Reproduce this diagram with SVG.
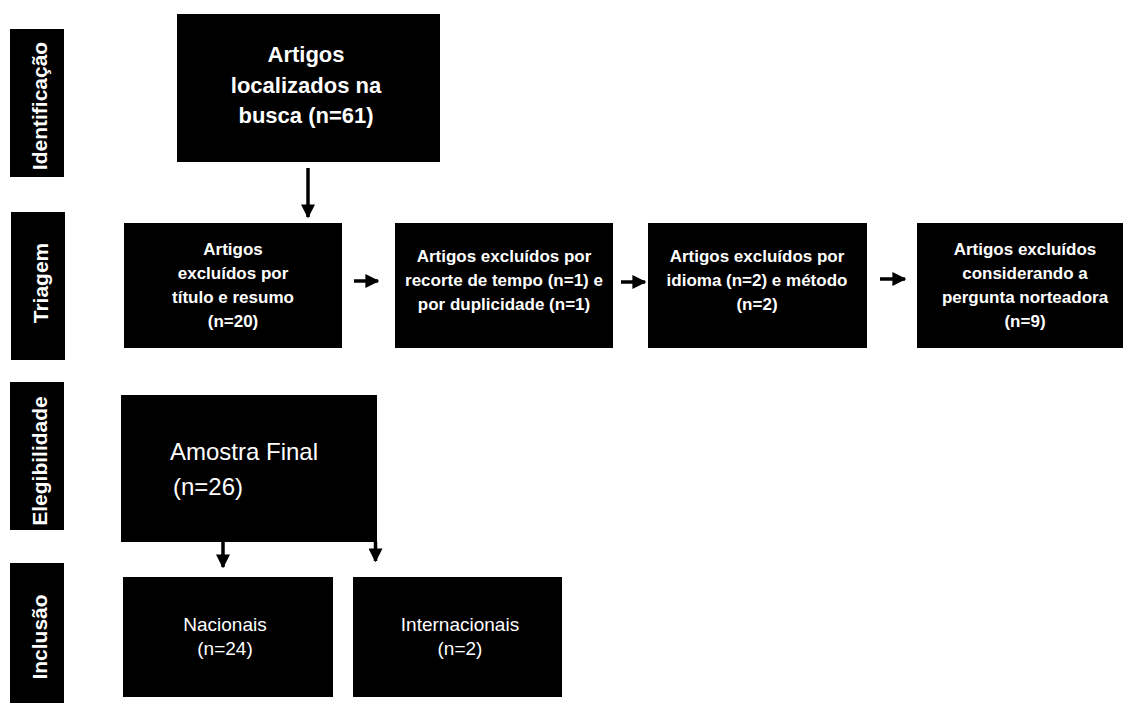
<svg xmlns="http://www.w3.org/2000/svg" width="1123" height="703" viewBox="0 0 1123 703">
<defs>
<style>
.box{fill:#000}
.side{fill:#000}
.t{fill:#fff;font-family:"Liberation Sans",Arial,sans-serif;text-anchor:middle}
.b{font-weight:bold}
.sl{fill:#fff;font-family:"Liberation Sans",Arial,sans-serif;font-weight:bold;font-size:21px;text-anchor:middle}
.ln{stroke:#000;stroke-width:3.5;fill:none}
</style>
<marker id="ah" viewBox="0 0 10 10" refX="9" refY="5" markerWidth="4" markerHeight="4" markerUnits="strokeWidth" orient="auto">
<path d="M0,0 L10,5 L0,10 Z" fill="#000"/>
</marker>
</defs>
<rect width="1123" height="703" fill="#fff"/>

<g id="side-identificacao"><rect class="side" x="10" y="29" width="54" height="148"/><text class="sl" transform="translate(47,106) rotate(-90)">Identificação</text></g>
<g id="side-triagem"><rect class="side" x="11" y="212" width="54" height="148"/><text class="sl" transform="translate(48,283) rotate(-90)">Triagem</text></g>
<g id="side-elegibilidade"><rect class="side" x="10" y="382" width="54" height="148"/><text class="sl" transform="translate(47,461) rotate(-90)">Elegibilidade</text></g>
<g id="side-inclusao"><rect class="side" x="10" y="563" width="54" height="140"/><text class="sl" transform="translate(47,637) rotate(-90)">Inclusão</text></g>

<g id="node-busca"><rect class="box" x="177" y="14" width="263" height="148"/>
<text class="t b" font-size="22"><tspan x="306" y="62">Artigos</tspan><tspan x="306" y="93">localizados na</tspan><tspan x="306" y="123">busca (n=61)</tspan></text></g>

<g id="node-titulo"><rect class="box" x="124" y="223" width="218" height="125"/>
<text class="t b" font-size="17"><tspan x="233" y="255">Artigos</tspan><tspan x="233" y="279">excluídos por</tspan><tspan x="233" y="303">título e resumo</tspan><tspan x="233" y="327">(n=20)</tspan></text></g>

<g id="node-tempo"><rect class="box" x="395" y="223" width="218" height="125"/>
<text class="t b" font-size="17"><tspan x="504" y="262">Artigos excluídos por</tspan><tspan x="504" y="286">recorte de tempo (n=1) e</tspan><tspan x="504" y="310">por duplicidade (n=1)</tspan></text></g>

<g id="node-idioma"><rect class="box" x="648" y="223" width="219" height="125"/>
<text class="t b" font-size="17"><tspan x="757" y="262">Artigos excluídos por</tspan><tspan x="757" y="286">idioma (n=2) e método</tspan><tspan x="757" y="310">(n=2)</tspan></text></g>

<g id="node-pergunta"><rect class="box" x="917" y="223" width="206" height="125"/>
<text class="t b" font-size="17"><tspan x="1025" y="255">Artigos excluídos</tspan><tspan x="1025" y="279">considerando a</tspan><tspan x="1025" y="303">pergunta norteadora</tspan><tspan x="1025" y="327">(n=9)</tspan></text></g>

<g id="node-amostra"><rect class="box" x="121" y="395" width="256" height="147"/>
<text class="t" font-size="24" style="text-anchor:start"><tspan x="170" y="460">Amostra Final</tspan><tspan x="173" y="495">(n=26)</tspan></text></g>

<g id="node-nacionais"><rect class="box" x="123" y="577" width="210" height="120"/>
<text class="t" font-size="19"><tspan x="225" y="631">Nacionais</tspan><tspan x="225" y="655">(n=24)</tspan></text></g>

<g id="node-internacionais"><rect class="box" x="353" y="577" width="209" height="120"/>
<text class="t" font-size="19"><tspan x="460" y="631">Internacionais</tspan><tspan x="460" y="655">(n=2)</tspan></text></g>

<g id="connectors">
<line class="ln" x1="308" y1="168" x2="308" y2="217" marker-end="url(#ah)"/>
<line class="ln" x1="354" y1="281" x2="378" y2="281" marker-end="url(#ah)"/>
<line class="ln" x1="621" y1="282" x2="645" y2="282" marker-end="url(#ah)"/>
<line class="ln" x1="880" y1="279" x2="905" y2="279" marker-end="url(#ah)"/>
<line class="ln" x1="223" y1="542" x2="223" y2="567" marker-end="url(#ah)"/>
<line class="ln" x1="375.5" y1="542" x2="375.5" y2="561" marker-end="url(#ah)"/>
</g>
</svg>
